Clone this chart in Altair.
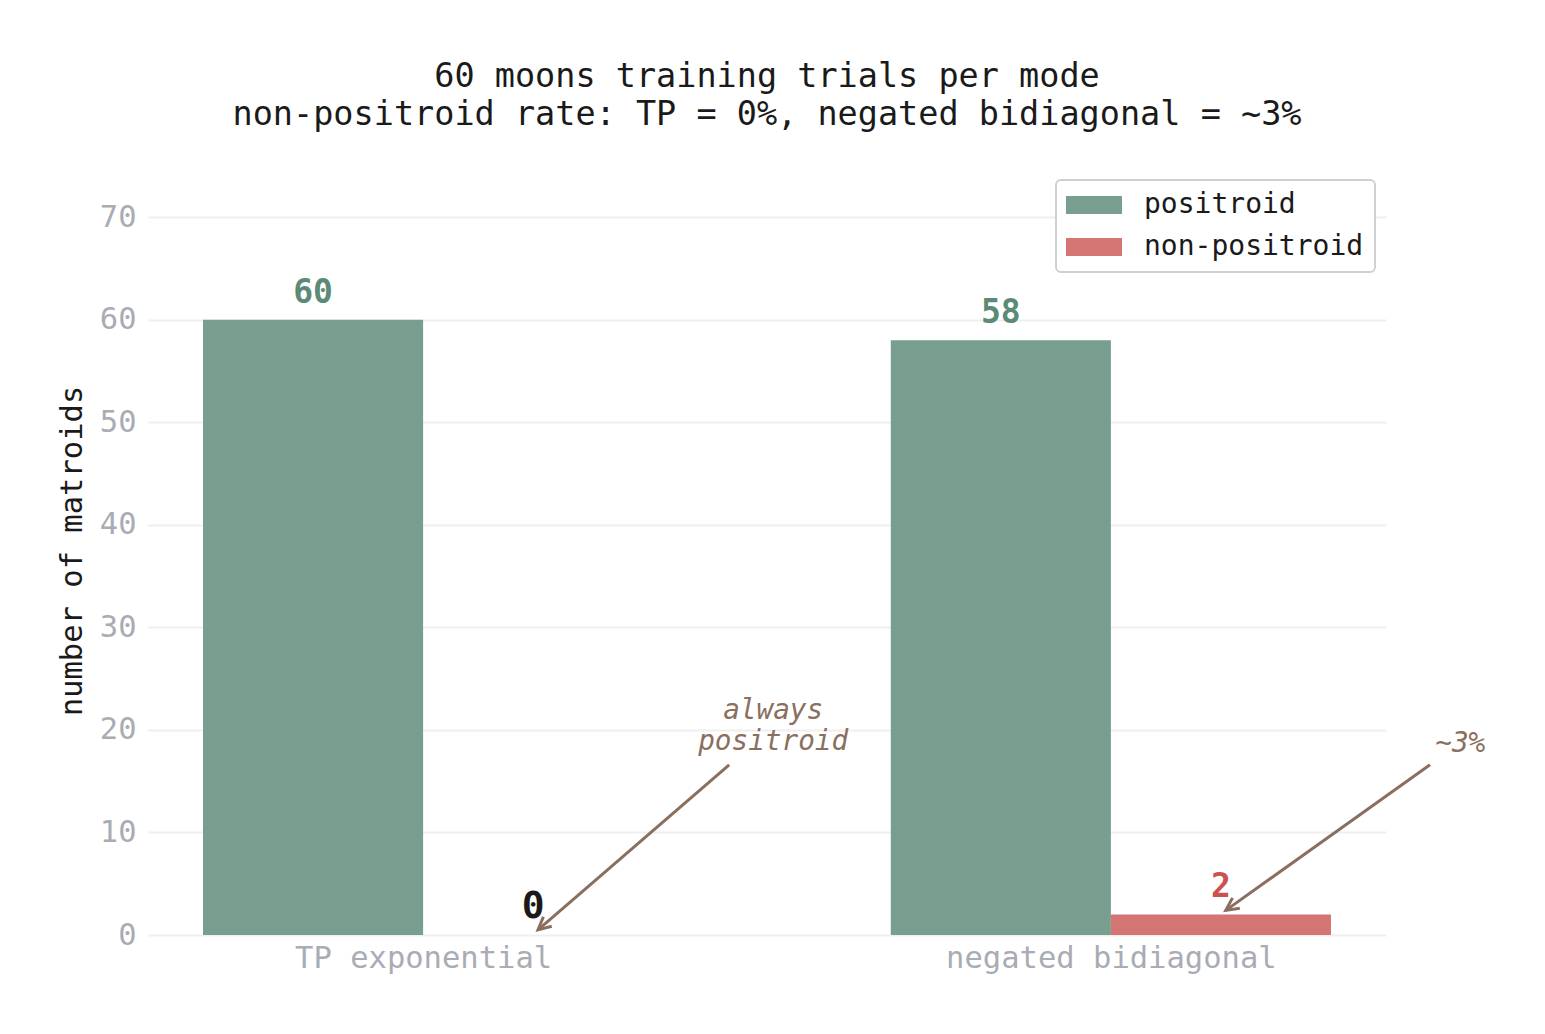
import altair as alt
import pandas as pd

# bar data
MODES = ["TP exponential", "negated bidiagonal"]
KINDS = ["positroid", "non-positroid"]
POSITROID_COUNTS = [60, 58]
NON_POSITROID_COUNTS = [0, 2]

# annotation arrows / notes (data units)
NOTES = ["always\npositroid", "~3%"]
NOTE_X = [0.509, 1.508]
NOTE_Y = [20.5, 17.3]
TAIL_X = [0.445, 1.464]
TAIL_Y = [16.6, 16.6]
HEAD_X = [0.167, 1.167]
HEAD_Y = [0.5, 2.4]

FONT = "DejaVu Sans Mono"
GREEN = "#789e8f"
RED = "#d47574"
BROWN = "#8b6f5e"
INK = "#1a1a1a"
BAR_W = 0.32

counts = pd.DataFrame({
    "mode": MODES * 2,
    "kind": [KINDS[0]] * 2 + [KINDS[1]] * 2,
    "count": POSITROID_COUNTS + NON_POSITROID_COUNTS,
})
arrows = pd.DataFrame({"tx": TAIL_X, "ty": TAIL_Y, "hx": HEAD_X, "hy": HEAD_Y})
notes = pd.DataFrame({"x": NOTE_X, "y": NOTE_Y, "note": NOTES})

x_scale = alt.Scale(domain=[-0.4, 1.4], nice=False, zero=False)
mode_labels = "datum.value == 0 ? '%s' : datum.value == 1 ? '%s' : ''" % tuple(MODES)

base = alt.Chart(counts).transform_calculate(
    center="indexof(%s, datum.mode) + (datum.kind == 'positroid' ? %f : %f)"
    % (str(MODES), -BAR_W / 2, BAR_W / 2),
    left="datum.center - %f" % (BAR_W / 2),
    right="datum.center + %f" % (BAR_W / 2),
)

y_count = alt.Y("count:Q", scale=alt.Scale(domain=[0, 75], nice=False),
                axis=alt.Axis(values=list(range(0, 71, 10)),
                              title="number of matroids"))

bars = base.mark_bar().encode(
    x=alt.X("left:Q", scale=x_scale, title=None,
            axis=alt.Axis(values=[0, 1], labelExpr=mode_labels, grid=False,
                          labelFontSize=30.5, labelPadding=8, labelLimit=500,
                          labelFlush=False)),
    x2="right:Q",
    y=y_count,
    y2=alt.datum(0),
    color=alt.Color(
        "kind:N", sort=KINDS,
        scale=alt.Scale(domain=KINDS, range=[GREEN, RED]),
        legend=alt.Legend(
            title=None, orient="none", legendX=908, legendY=14,
            fillColor="white", strokeColor="#d0d0d4", cornerRadius=5,
            padding=11, rowPadding=14, labelOffset=36, symbolOffset=13,
            symbolType="M-2.8,-0.9H2.8V0.9H-2.8Z", symbolSize=400,
            symbolStrokeWidth=0, labelFont=FONT, labelFontSize=28,
            labelColor=INK, labelLimit=500),
    ),
)

label_enc = dict(x=alt.X("center:Q", scale=x_scale), y="count:Q", text="count:Q")

green_labels = base.transform_filter(
    alt.datum.kind == "positroid"
).mark_text(font=FONT, fontSize=33, fontWeight="bold", color="#5b8a77",
            baseline="alphabetic", dy=-17).encode(**label_enc)

red_labels = base.transform_filter(
    (alt.datum.kind == "non-positroid") & (alt.datum.count > 0)
).mark_text(font=FONT, fontSize=33, fontWeight="bold", color="#cc5151",
            baseline="alphabetic", dy=-17).encode(**label_enc)

zero_labels = base.transform_filter(
    alt.datum.count == 0
).mark_text(font=FONT, fontSize=38, fontWeight="bold", color=INK,
            baseline="alphabetic", dy=-17).encode(**label_enc)

arrow_lines = alt.Chart(arrows).mark_rule(color=BROWN, strokeWidth=3).encode(
    x=alt.X("tx:Q", scale=x_scale),
    x2="hx:Q",
    y="ty:Q",
    y2="hy:Q",
)

head_shape = "M-0.6,1.2L0,0L0.6,1.2"
heads = []
for i, ang in enumerate([229, 235]):
    heads.append(
        alt.Chart(arrows.iloc[[i]]).mark_point(
            shape=head_shape, filled=False, size=450, strokeWidth=3,
            color=BROWN, opacity=1, angle=ang,
        ).encode(x=alt.X("hx:Q", scale=x_scale), y="hy:Q")
    )

note_text = alt.Chart(notes).mark_text(
    font=FONT, fontStyle="italic", fontSize=27.7, color=BROWN,
    baseline="bottom", align="center", lineBreak="\n", lineHeight=31,
).encode(x=alt.X("x:Q", scale=x_scale), y="y:Q", text="note:N")

chart = alt.layer(
    bars, green_labels, red_labels, zero_labels, arrow_lines, *heads, note_text
).properties(
    width=1238,
    height=769,
    autosize=alt.AutoSizeParams(type="none"),
    padding={"left": 140, "top": 158, "right": 140, "bottom": 80},
    title=alt.TitleParams(
        ["60 moons training trials per mode",
         "non-positroid rate: TP = 0%, negated bidiagonal = ~3%"],
        font=FONT, fontSize=33.5, fontWeight="normal", color=INK,
        anchor="middle", offset=34, lineHeight=38),
).configure_view(
    stroke=None
).configure_legend(
    strokeWidth=2
).configure_axis(
    labelFont=FONT, titleFont=FONT, labelColor="#a9acb4",
    domain=False, ticks=False,
).configure_axisY(
    labelFontSize=30.5, labelPadding=12, titleFontSize=30.5, titleColor=INK,
    titleFontWeight="normal", titlePadding=12, gridColor="#efefef",
    gridWidth=2,
)

chart.save("out.html", embed_options={"renderer": "svg", "actions": False})
